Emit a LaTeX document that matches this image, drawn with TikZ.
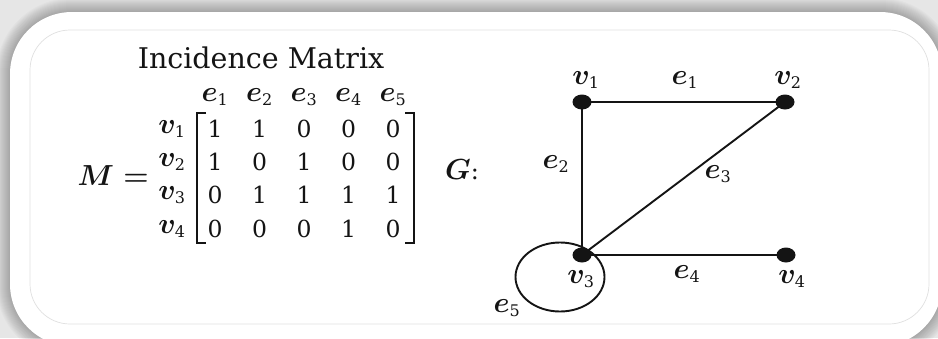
\documentclass[tikz,border=0pt]{standalone}
\usepackage{fix-cm}
\usepackage{fontspec}
\setmainfont{DejaVu Serif}
\usetikzlibrary{shapes.geometric}
\definecolor{bgray}{HTML}{E6E6E6}
\definecolor{lineclr}{HTML}{141414}
\newcommand\symsub[2]{$#1_{\hbox{\fontsize{16}{19}\selectfont #2}}$}
\begin{document}
\begin{tikzpicture}[x=1pt,y=-1pt,
  edgeline/.style={line width=1.9pt, draw=lineclr},
  vdot/.style={ellipse, fill=lineclr, inner sep=0pt, minimum width=19pt, minimum height=15pt},
  glab/.style={inner sep=0pt, text=lineclr, font=\fontsize{29}{34}\selectfont\boldmath},
  digit/.style={inner sep=0pt, text=lineclr, font=\fontsize{23.5}{28}\selectfont},
  ttl/.style={inner sep=0pt, text=lineclr, font=\fontsize{28.5}{33}\selectfont},
  brk/.style={line width=2.3pt, draw=lineclr}]
\useasboundingbox (0,0) rectangle (938,338);
\fill[bgray] (0,0) rectangle (938,338);
\foreach \i in {1,...,14}
  \fill[black, opacity=0.02, rounded corners={62pt+\i pt}] (10-\i,12-\i) rectangle (942+\i,346+\i);
\fill[white, rounded corners=62pt] (10,12) rectangle (942,346);
\draw[black!12, line width=0.7pt, rounded corners=40pt] (30,30) rectangle (929,324);

% ---- matrix ----
\node[ttl] (title) at (261,58) {Incidence Matrix};
\node[glab, anchor=east] (Meq) at (149,176) {$M =$};
\foreach \c in {1,...,5}
  \node[glab] (col\c) at ({215+44.5*(\c-1)},97) {\symsub{e}{\c}};
\foreach \r/\y/\vals in {1/129/{1,1,0,0,0},2/162/{1,0,1,0,0},3/195/{0,1,1,1,1},4/229/{0,0,0,1,0}}{
  \node[glab] (row\r) at (172,\y) {\symsub{v}{\r}};
  \foreach \v [count=\c] in \vals
    \node[digit] (m-\r-\c) at ({215+44.5*(\c-1)},\y) {\v};
}
\coordinate (lbt) at (197,113);
\coordinate (lbb) at (197,243);
\coordinate (rbt) at (414,113);
\coordinate (rbb) at (414,243);
\draw[brk] ([xshift=9pt]lbt) -- (lbt) -- (lbb) -- ([xshift=9pt]lbb);
\draw[brk] ([xshift=-9pt]rbt) -- (rbt) -- (rbb) -- ([xshift=-9pt]rbb);

\node[glab] (G) at (462,170) {$G$\fontsize{24}{28}\selectfont:};

% ---- graph ----
\node[vdot] (v1) at (582,102) {};
\node[vdot] (v2) at (785,102) {};
\node[vdot] (v3) at (582,255) {};
\node[vdot] (v4) at (786,255) {};
\coordinate (loopc) at (560,277);
\draw[edgeline] (v1.center) -- (v2.center);
\draw[edgeline] (v1.center) -- (v3.center);
\draw[edgeline] (v3.center) -- (v2.center);
\draw[edgeline] (v3.center) -- (v4.center);
\draw[edgeline] (loopc) ellipse [x radius=44.5pt, y radius=34.5pt];

\node[glab] (lv1) at (586,80) {\symsub{v}{1}};
\node[glab] (lv2) at (788,80) {\symsub{v}{2}};
\node[glab] (lv3) at (581,279) {\symsub{v}{3}};
\node[glab] (lv4) at (792,279) {\symsub{v}{4}};
\node[glab] (le1) at (685,80) {\symsub{e}{1}};
\node[glab] (le2) at (556,164) {\symsub{e}{2}};
\node[glab] (le3) at (718,174) {\symsub{e}{3}};
\node[glab] (le4) at (687,274) {\symsub{e}{4}};
\node[glab] (le5) at (507,308) {\symsub{e}{5}};
\end{tikzpicture}
\end{document}
